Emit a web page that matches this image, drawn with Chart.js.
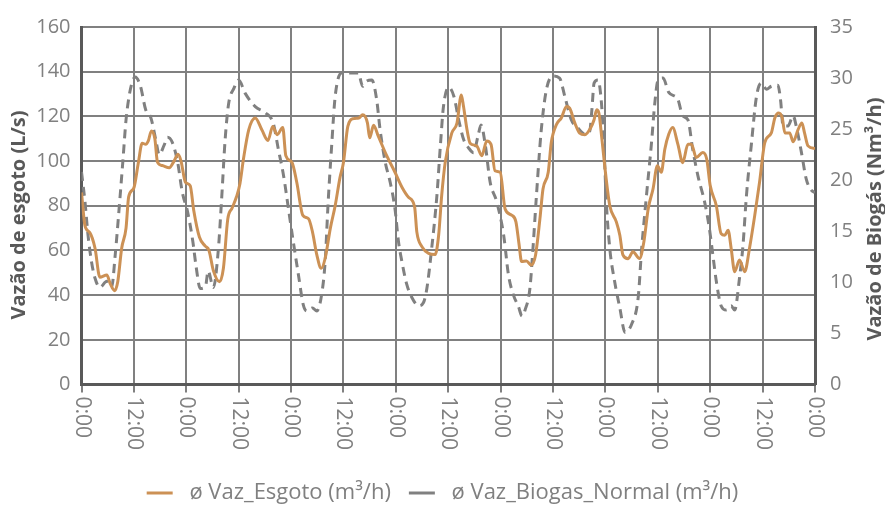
<!DOCTYPE html>
<html>
<head>
<meta charset="utf-8">
<script src="https://cdn.jsdelivr.net/npm/chart.js@4/dist/chart.umd.min.js"></script>
<style>
  html, body { margin: 0; padding: 0; background: #fff; }
  canvas { display: block; }
</style>
</head>
<body>
<canvas id="grafico" width="885" height="506"></canvas>
<script>
// Vazão de esgoto (L/s) - hora do período (0 a 168 h)
const esgotoHoras = [0, 0.8, 1.9, 3.1, 4.2, 5.8, 6.6, 7.6, 8.3, 9.2, 10.2, 10.8, 12, 13, 13.9, 14.7, 15.3, 16, 16.8, 17.4, 18.5, 20.1, 21.2, 22.1, 22.8, 23.8, 24.9, 25.7, 27, 28.3, 29.2, 30.2, 31.6, 32.5, 33.5, 34.5, 35.5, 36.3, 37.1, 38.3, 39.8, 41.3, 42.7, 43.8, 44.8, 46.1, 46.8, 48.2, 49.3, 50.7, 52, 52.9, 53.9, 54.9, 55.8, 57, 58.1, 59.2, 60, 61, 62.3, 63.5, 64.4, 65.5, 66, 66.9, 68, 69.9, 71.8, 73.4, 74.9, 76.3, 76.8, 78, 79.5, 81, 81.8, 82.5, 83.3, 84.8, 86, 87, 87.5, 88.3, 89, 90.5, 91.7, 92.8, 93.8, 94.7, 95.9, 97, 98.6, 99.5, 100.2, 100.8, 101.9, 103, 104, 105, 105.7, 106.9, 107.6, 108.8, 109.9, 111.1, 111.8, 113, 114.1, 115.3, 116.6, 117.4, 118, 118.5, 119.2, 120, 121, 122.5, 123.3, 124, 125.2, 126.3, 127.8, 128.8, 129.8, 130.9, 131.9, 132.8, 133.6, 134.5, 135.4, 136.6, 137.7, 138.9, 139.7, 140.8, 142.3, 143.2, 144, 145.4, 146.5, 147.3, 148.1, 148.8, 149.6, 150.7, 151.9, 153, 154.2, 155.3, 156.5, 158, 158.8, 159.7, 160.5, 161.1, 162.2, 163, 164.1, 165, 165.6, 166.4, 168];
const esgotoVazao = [86, 71, 68, 61, 48, 49, 45, 42, 46, 61, 70, 84, 88, 99, 108, 107.5, 109, 113.5, 110, 99.5, 98, 97, 100, 103, 100, 90.5, 89, 78, 66, 62, 60, 51, 46, 52, 74, 79, 84, 90, 101, 114, 119.3, 114, 109.2, 115.5, 111.8, 115, 102.4, 99.4, 90.5, 75.7, 74.2, 68.3, 58, 52, 56.4, 70, 80, 92.6, 99.4, 115.5, 119, 119.3, 120.7, 117, 110.4, 116, 111, 102.4, 95, 88.3, 83.8, 79.4, 68.3, 61.6, 58.7, 58.2, 66.8, 84.6, 99.4, 112.5, 117, 129.6, 124.4, 114, 108, 106.8, 102.4, 109, 107.5, 95.7, 95, 78.7, 75.7, 72.8, 63, 55, 55.3, 53.5, 58, 74.2, 87.5, 95, 108.3, 116.4, 119.3, 124.4, 123.7, 117, 112.5, 111.8, 114.8, 118.5, 123, 121.5, 109.7, 95, 80, 72.8, 66.8, 58, 56.3, 59.4, 56.4, 63.8, 78.7, 87.5, 97.9, 95, 105.3, 112, 115, 107.5, 99.3, 107.5, 107.5, 101.6, 103.8, 100.9, 89, 80, 67.5, 66.8, 69, 60.9, 50.5, 55.7, 50.5, 61, 75.7, 90.5, 108.3, 112.6, 119.3, 121.5, 119.3, 112.6, 112.6, 108.6, 114, 117, 112.6, 106.8, 105.6];

// Vazão de biogás (Nm³/h)
const biogasHoras = [0, 0.8, 1.5, 2.3, 3.1, 4.2, 5.8, 6.9, 7.7, 8.8, 9.5, 10.2, 11.2, 12.3, 13.5, 14.7, 15.9, 17, 17.8, 18.9, 19.7, 20.8, 22, 23.1, 24.3, 25.5, 26.2, 27.2, 28.4, 29, 30.2, 31.3, 32.1, 32.9, 33.7, 34.9, 36, 37.5, 39.8, 42.1, 43.9, 45.1, 46.3, 47.4, 48.5, 49.7, 50.8, 51.6, 52.9, 53.9, 55, 55.8, 56.5, 57.3, 58.1, 59.6, 61.1, 63.4, 64.4, 65.3, 66.5, 67.6, 68.4, 69.6, 70.7, 71.8, 72.6, 73.4, 74.5, 75.7, 77.2, 78.3, 79.1, 80.2, 81.4, 82.2, 82.9, 84.1, 85.3, 86.4, 87.5, 88.6, 89.8, 90.8, 91.5, 92.5, 93.6, 95.1, 96.7, 97.8, 98.9, 100.1, 100.9, 101.6, 102.7, 103.4, 104.2, 105.3, 106.5, 108, 109.5, 110.7, 112.2, 113.7, 115.3, 116.4, 116.9, 117.4, 118.3, 119.1, 119.7, 120.2, 121, 122.1, 123.3, 124.5, 126, 127.5, 128.3, 129.4, 130.5, 131.3, 132, 133.2, 134.5, 136.6, 137.7, 138.9, 140, 141.2, 142.7, 143.8, 144.6, 145.4, 146.5, 147.7, 148.8, 149.6, 150.7, 151.5, 152.3, 153.4, 154.6, 155.7, 156.9, 158, 159.5, 160.1, 160.7, 161.8, 163, 163.7, 164.9, 166, 167.2, 168];
const biogasVazao = [20.8, 17.9, 14.6, 12, 10.4, 9.5, 10.1, 9.5, 12.6, 18.2, 22, 25.9, 28.9, 30.1, 29.2, 26.9, 26.1, 24, 22.5, 23.4, 24.2, 23.7, 21.8, 18.8, 16.9, 14, 11.7, 9.4, 9.6, 11.1, 9.5, 13, 18.2, 24, 27.5, 29, 29.8, 28.5, 27.2, 26.6, 25.6, 23, 20.4, 17.2, 14, 10.7, 7.8, 7.2, 7.5, 7.2, 8.8, 12, 17.9, 23.4, 28.2, 30.5, 30.5, 30.5, 29.2, 29.7, 29.8, 27.9, 24.9, 21.7, 19.8, 17.2, 14, 12, 9.8, 8.5, 7.7, 8, 9.4, 13.3, 18.5, 23.4, 27.2, 29.1, 28.2, 25.9, 24, 23.2, 22.7, 24.3, 25.4, 23.4, 19.8, 17.9, 14.6, 10.7, 8.8, 7.6, 6.7, 7.3, 9.4, 13.3, 18.5, 24.9, 28.9, 30.2, 30, 28.2, 25.9, 25.1, 24.5, 24.8, 26.9, 29.5, 29.8, 27.5, 23, 17.9, 13.3, 10.1, 7.5, 5.1, 5.9, 8.5, 13.3, 18.5, 23.4, 27.5, 29.7, 30, 28.6, 27.9, 26.3, 25.9, 23, 20.4, 17.9, 15.3, 12.7, 10.1, 7.7, 7.3, 7.7, 7.3, 10.4, 13.6, 18.5, 23.4, 28.2, 29.5, 28.9, 29.2, 29.3, 27.9, 25.3, 25.3, 26.3, 25.3, 22.7, 20.1, 19, 18.8];

const rotulosX = ['0:00', '12:00', '0:00', '12:00', '0:00', '12:00', '0:00', '12:00', '0:00', '12:00', '0:00', '12:00', '0:00', '12:00', '0:00'];
const nomesSeries = ['ø Vaz_Esgoto (m³/h)', 'ø Vaz_Biogas_Normal (m³/h)'];
const tituloEsq = 'Vazão de esgoto (L/s)';
const tituloDir = 'Vazão de Biogás (Nm³/h)';

const corLaranja = '#cc9155';
const corCinza = '#808080';
const corEixo = '#595959';
const corTexto = '#808080';
const fonte = 'Open Sans';
const tracejado = [9, 6];

// Draws the rotated hour labels and the two axis titles
const rotulosPlugin = {
  id: 'rotulos',
  afterDraw(chart) {
    const ctx = chart.ctx;
    const sx = chart.scales.x;
    ctx.save();
    ctx.fillStyle = corTexto;
    ctx.font = '21px "' + fonte + '"';
    ctx.textAlign = 'left';
    ctx.textBaseline = 'middle';
    sx.ticks.forEach((t, i) => {
      const px = sx.getPixelForValue(t.value);
      ctx.save();
      ctx.translate(px, sx.top + 12);
      ctx.rotate(Math.PI / 2);
      ctx.fillText(rotulosX[i], 0, 0);
      ctx.restore();
    });
    ctx.fillStyle = corEixo;
    ctx.font = 'bold 20px "' + fonte + '"';
    ctx.textAlign = 'center';
    [[19, 215, tituloEsq], [875, 219, tituloDir]].forEach(([x, y, txt]) => {
      ctx.save();
      ctx.translate(x, y);
      ctx.rotate(-Math.PI / 2);
      ctx.fillText(txt, 0, 0);
      ctx.restore();
    });
    ctx.restore();
  }
};

new Chart(document.getElementById('grafico'), {
  type: 'line',
  data: {
    datasets: [
      {
        label: ' ' + nomesSeries[0],
        data: esgotoHoras.map((h, i) => ({ x: h, y: esgotoVazao[i] })),
        yAxisID: 'y',
        borderColor: corLaranja,
        backgroundColor: corLaranja,
        borderWidth: 3,
        pointRadius: 0,
        cubicInterpolationMode: 'monotone'
      },
      {
        label: ' ' + nomesSeries[1],
        data: biogasHoras.map((h, i) => ({ x: h, y: biogasVazao[i] })),
        yAxisID: 'y1',
        borderColor: corCinza,
        backgroundColor: corCinza,
        borderWidth: 3,
        borderDash: tracejado,
        pointRadius: 0,
        cubicInterpolationMode: 'monotone'
      }
    ]
  },
  options: {
    responsive: false,
    animation: false,
    layout: { padding: { top: 23, left: 0, right: 0, bottom: -8 } },
    plugins: {
      legend: {
        position: 'bottom',
        labels: {
          color: corTexto,
          font: { family: fonte, size: 22 },
          usePointStyle: true,
          pointStyle: 'line',
          pointStyleWidth: 26,
          padding: 18
        }
      },
      tooltip: { enabled: false }
    },
    scales: {
      x: {
        type: 'linear',
        min: 0,
        max: 168,
        afterFit: (s) => { s.height = 79.5; },
        ticks: { stepSize: 12, display: false },
        grid: { color: corCinza, lineWidth: 2, tickLength: 8, tickColor: corCinza },
        border: { color: corEixo, width: 3 }
      },
      y: {
        position: 'left',
        min: 0,
        max: 160,
        afterFit: (s) => { s.width = 81.5; },
        ticks: { stepSize: 20, color: corTexto, padding: 11, font: { family: fonte, size: 20 } },
        grid: { color: corCinza, lineWidth: 2, drawTicks: false },
        border: { color: corEixo, width: 3 }
      },
      y1: {
        position: 'right',
        min: 0,
        max: 35,
        afterFit: (s) => { s.width = 70; },
        ticks: { stepSize: 5, color: corTexto, padding: 15, font: { family: fonte, size: 20 } },
        grid: { drawOnChartArea: false, drawTicks: false },
        border: { color: corEixo, width: 3 }
      }
    }
  },
  plugins: [rotulosPlugin]
});
</script>
</body>
</html>
